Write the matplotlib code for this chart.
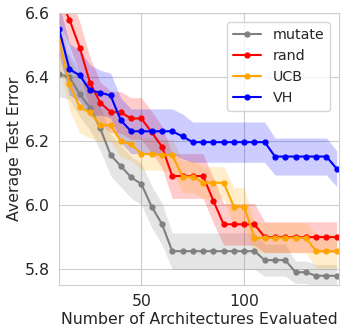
import numpy as np
import matplotlib
matplotlib.use("Agg")
import matplotlib.pyplot as plt
import seaborn as sns

sns.set_style("whitegrid")
plt.rcParams["font.family"] = ["DejaVu Sans"]

# number of architectures evaluated
n_arch = np.arange(10, 150, 5)

# mean test error per method
mutate_mean = [6.41, 6.40, 6.347, 6.305, 6.24, 6.157, 6.122, 6.087, 6.066, 5.995, 5.941,
               5.856, 5.856, 5.856, 5.856, 5.856, 5.856, 5.856, 5.856, 5.856,
               5.828, 5.828, 5.828, 5.79, 5.79, 5.779, 5.779, 5.779]
rand_mean = [6.65, 6.58, 6.493, 6.383, 6.32, 6.292, 6.29, 6.271, 6.271, 6.228, 6.183,
             6.091, 6.091, 6.091, 6.091, 6.014, 5.94, 5.94, 5.94, 5.94,
             5.90, 5.90, 5.90, 5.90, 5.90, 5.90, 5.90, 5.90]
ucb_mean = [6.515, 6.378, 6.306, 6.29, 6.25, 6.25, 6.2, 6.19, 6.16, 6.16, 6.157, 6.157,
            6.089, 6.089, 6.07, 6.07, 6.07, 5.995, 5.995,
            5.898, 5.898, 5.898, 5.898, 5.898, 5.898, 5.856, 5.856, 5.856]
vh_mean = [6.55, 6.425, 6.406, 6.359, 6.352, 6.343, 6.265,
           6.231, 6.231, 6.231, 6.231, 6.231, 6.215,
           6.197, 6.197, 6.197, 6.197, 6.197, 6.197, 6.197, 6.197,
           6.152, 6.152, 6.152, 6.152, 6.152, 6.152, 6.114]

# spread (shaded band half-width)
mutate_std = [0.07] * 5 + [0.065] * 6 + [0.057] * 9 + [0.05] * 3 + [0.035] * 5
rand_std = [0.08] * 4 + [0.065] * 7 + [0.07] * 5 + [0.065] * 4 + [0.048] * 8
ucb_std = [0.08] * 4 + [0.05] * 13 + [0.06] * 2 + [0.047] * 6 + [0.053] * 3
vh_std = [0.08] * 4 + [0.07] * 9 + [0.063] * 8 + [0.058] * 6 + [0.056]

methods = ["mutate", "rand", "UCB", "VH"]
means = [mutate_mean, rand_mean, ucb_mean, vh_mean]
stds = [mutate_std, rand_std, ucb_std, vh_std]
colors = ["gray", "red", "orange", "blue"]

fig, ax = plt.subplots(figsize=(3.46, 3.33), dpi=100)
fig.subplots_adjust(left=0.171, right=0.979, top=0.960, bottom=0.144)

for name, m, s, c in zip(methods, means, stds, colors):
    m = np.array(m)
    s = np.array(s)
    ax.plot(n_arch, m, marker="o", markersize=3.5, linewidth=1.5, color=c, label=name)
    ax.fill_between(n_arch, m - s, m + s, color=c, alpha=0.2, linewidth=0)

ax.set_xlim(10, 146)
ax.set_ylim(5.75, 6.6)
ax.set_xticks([50, 100])
ax.set_yticks([5.8, 6.0, 6.2, 6.4, 6.6])
ax.tick_params(labelsize=11.3, pad=3)
ax.set_xlabel("Number of Architectures Evaluated", fontsize=11.3, labelpad=2)
ax.set_ylabel("Average Test Error", fontsize=11.3, labelpad=2.5)
ax.legend(loc="upper right", fontsize=10.3, borderaxespad=0.6)

fig.savefig("out.png", dpi=100)
